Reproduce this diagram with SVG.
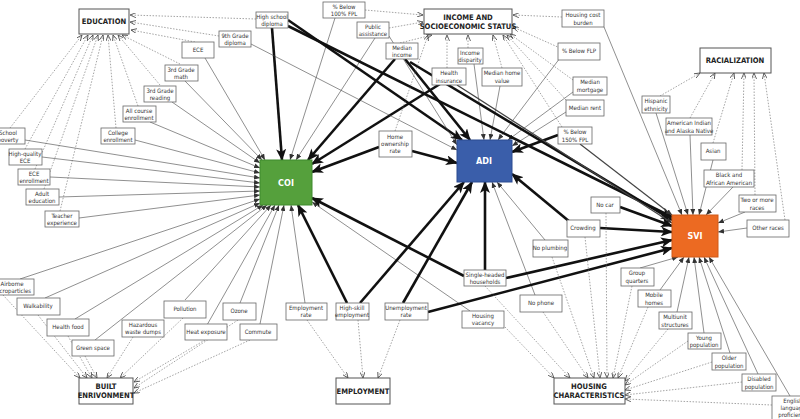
<svg xmlns="http://www.w3.org/2000/svg" width="800" height="419" viewBox="0 0 800 419">
<style>
text{font-family:"Liberation Sans Narrow","DejaVu Sans Condensed","Liberation Sans",sans-serif;font-stretch:condensed;font-size:6px;fill:#333;text-anchor:middle}
.b{fill:#fff;stroke:#666;stroke-width:0.8}
.c{fill:#fff;stroke:#555;stroke-width:1}
.ct{font-size:7.6px;font-weight:bold;fill:#222}
.it{font-size:9px;font-weight:bold;fill:#fff}
.th{stroke:#111;stroke-width:2.6;fill:none;marker-end:url(#ak)}
.tn{stroke:#444;stroke-width:0.6;fill:none;marker-end:url(#as)}
.dt{stroke:#666;stroke-width:0.6;stroke-dasharray:1.5 1.5;fill:none;marker-end:url(#ad)}
</style>
<defs>
<marker id="ak" markerUnits="userSpaceOnUse" markerWidth="12" markerHeight="10" refX="11" refY="5" orient="auto"><path d="M0,0 L12,5 L0,10 L3,5 Z" fill="#111"/></marker>
<marker id="as" markerUnits="userSpaceOnUse" markerWidth="6" markerHeight="5" refX="6" refY="2.5" orient="auto"><path d="M0,0 L6,2.5 L0,5 Z" fill="#333"/></marker>
<marker id="ad" markerUnits="userSpaceOnUse" markerWidth="6" markerHeight="5" refX="6" refY="2.5" orient="auto"><path d="M0,0 L6,2.5 L0,5" fill="none" stroke="#444" stroke-width="0.8"/></marker>
</defs>
<rect width="800" height="419" fill="#fff"/>
<g id="connectors">
<line class="tn" x1="335" y1="18" x2="290" y2="160"/>
<line class="tn" x1="375" y1="38" x2="296" y2="160"/>
<line class="tn" x1="205" y1="58" x2="265" y2="160"/>
<line class="tn" x1="185" y1="81" x2="262" y2="160"/>
<line class="tn" x1="172" y1="102" x2="260" y2="163"/>
<line class="tn" x1="150" y1="122" x2="260" y2="168"/>
<line class="tn" x1="135" y1="140" x2="260" y2="173"/>
<line class="tn" x1="25" y1="140" x2="260" y2="178"/>
<line class="tn" x1="42" y1="157" x2="260" y2="183"/>
<line class="tn" x1="50" y1="177" x2="260" y2="187"/>
<line class="tn" x1="59" y1="197" x2="260" y2="191"/>
<line class="tn" x1="79" y1="218" x2="260" y2="195"/>
<line class="tn" x1="20" y1="279" x2="260" y2="199"/>
<line class="tn" x1="45" y1="298" x2="260" y2="203"/>
<line class="tn" x1="75" y1="319" x2="263" y2="205"/>
<line class="tn" x1="95" y1="340" x2="267" y2="205"/>
<line class="tn" x1="185" y1="300" x2="271" y2="205"/>
<line class="tn" x1="207" y1="325" x2="275" y2="205"/>
<line class="tn" x1="240" y1="303" x2="279" y2="205"/>
<line class="tn" x1="260" y1="324" x2="284" y2="205"/>
<line class="tn" x1="305" y1="303" x2="291" y2="205"/>
<line class="tn" x1="470" y1="311" x2="312" y2="202"/>
<line class="th" x1="272" y1="28" x2="282" y2="160"/>
<line class="th" x1="395" y1="59" x2="308" y2="160"/>
<line class="th" x1="440" y1="84" x2="312" y2="164"/>
<line class="th" x1="379" y1="147" x2="312" y2="172"/>
<line class="th" x1="464" y1="276" x2="312" y2="198"/>
<line class="th" x1="347" y1="303" x2="298" y2="205"/>
<line class="th" x1="288" y1="20" x2="462" y2="140"/>
<line class="th" x1="405" y1="59" x2="470" y2="140"/>
<line class="th" x1="412" y1="151" x2="457" y2="163"/>
<line class="th" x1="558" y1="135" x2="512" y2="152"/>
<line class="th" x1="485" y1="270" x2="485" y2="182"/>
<line class="th" x1="360" y1="303" x2="464" y2="182"/>
<line class="th" x1="403" y1="303" x2="472" y2="182"/>
<line class="th" x1="570" y1="222" x2="512" y2="174"/>
<line class="tn" x1="251" y1="44" x2="457" y2="150"/>
<line class="tn" x1="389" y1="36" x2="457" y2="145"/>
<line class="tn" x1="474" y1="64" x2="484" y2="140"/>
<line class="tn" x1="500" y1="86" x2="490" y2="140"/>
<line class="tn" x1="560" y1="58" x2="498" y2="140"/>
<line class="tn" x1="573" y1="92" x2="508" y2="140"/>
<line class="tn" x1="566" y1="112" x2="512" y2="146"/>
<line class="tn" x1="545" y1="240" x2="497" y2="182"/>
<line class="tn" x1="535" y1="295" x2="492" y2="182"/>
<line class="th" x1="288" y1="26" x2="672" y2="217"/>
<line class="th" x1="410" y1="62" x2="672" y2="220"/>
<line class="tn" style="stroke-width:1.4" x1="457" y1="85" x2="672" y2="223"/>
<line class="th" x1="620" y1="207" x2="672" y2="226"/>
<line class="th" x1="600" y1="228" x2="672" y2="232"/>
<line class="th" x1="506" y1="278" x2="672" y2="240"/>
<line class="th" x1="428" y1="312" x2="672" y2="248"/>
<line class="tn" style="stroke-width:1.2" x1="580" y1="144" x2="672" y2="215"/>
<line class="tn" x1="604" y1="27" x2="682" y2="215"/>
<line class="tn" x1="656" y1="113" x2="688" y2="215"/>
<line class="tn" x1="690" y1="135" x2="693" y2="215"/>
<line class="tn" x1="713" y1="160" x2="699" y2="215"/>
<line class="tn" x1="733" y1="187" x2="706" y2="215"/>
<line class="tn" x1="745" y1="212" x2="718" y2="223"/>
<line class="tn" x1="747" y1="228" x2="718" y2="232"/>
<line class="tn" x1="640" y1="268" x2="678" y2="257"/>
<line class="tn" x1="660" y1="290" x2="684" y2="257"/>
<line class="tn" x1="677" y1="312" x2="689" y2="257"/>
<line class="tn" x1="704" y1="333" x2="694" y2="257"/>
<line class="tn" x1="730" y1="353" x2="699" y2="257"/>
<line class="tn" x1="758" y1="374" x2="704" y2="257"/>
<line class="tn" x1="790" y1="396" x2="709" y2="257"/>
<line class="dt" x1="256" y1="19" x2="130" y2="15"/>
<line class="dt" x1="219" y1="36" x2="130" y2="22"/>
<line class="dt" x1="195" y1="42" x2="131" y2="30"/>
<line class="dt" x1="180" y1="64" x2="122" y2="35"/>
<line class="dt" x1="160" y1="85" x2="118" y2="35"/>
<line class="dt" x1="138" y1="106" x2="113" y2="35"/>
<line class="dt" x1="116" y1="128" x2="108" y2="35"/>
<line class="dt" x1="10" y1="128" x2="82" y2="35"/>
<line class="dt" x1="25" y1="149" x2="88" y2="35"/>
<line class="dt" x1="35" y1="169" x2="93" y2="35"/>
<line class="dt" x1="44" y1="189" x2="98" y2="35"/>
<line class="dt" x1="60" y1="211" x2="103" y2="35"/>
<line class="dt" x1="365" y1="10" x2="423" y2="15"/>
<line class="dt" x1="389" y1="28" x2="423" y2="22"/>
<line class="dt" x1="400" y1="43" x2="432" y2="35"/>
<line class="dt" x1="395" y1="131" x2="428" y2="35"/>
<line class="dt" x1="447" y1="68" x2="447" y2="35"/>
<line class="dt" x1="468" y1="48" x2="468" y2="35"/>
<line class="dt" x1="502" y1="68" x2="493" y2="35"/>
<line class="dt" x1="562" y1="127" x2="503" y2="35"/>
<line class="dt" x1="573" y1="80" x2="510" y2="34"/>
<line class="dt" x1="566" y1="100" x2="507" y2="35"/>
<line class="dt" x1="560" y1="48" x2="513" y2="27"/>
<line class="dt" x1="562" y1="17" x2="513" y2="15"/>
<line class="dt" x1="660" y1="96" x2="700" y2="73"/>
<line class="dt" x1="690" y1="118" x2="715" y2="73"/>
<line class="dt" x1="713" y1="143" x2="734" y2="73"/>
<line class="dt" x1="742" y1="170" x2="744" y2="73"/>
<line class="dt" x1="755" y1="195" x2="754" y2="73"/>
<line class="dt" x1="785" y1="220" x2="764" y2="73"/>
<line class="dt" x1="3" y1="295" x2="80" y2="378"/>
<line class="dt" x1="38" y1="315" x2="87" y2="378"/>
<line class="dt" x1="68" y1="336" x2="92" y2="378"/>
<line class="dt" x1="85" y1="356" x2="97" y2="378"/>
<line class="dt" x1="133" y1="337" x2="107" y2="378"/>
<line class="dt" x1="183" y1="318" x2="120" y2="378"/>
<line class="dt" x1="205" y1="340" x2="134" y2="382"/>
<line class="dt" x1="238" y1="320" x2="134" y2="388"/>
<line class="dt" x1="250" y1="340" x2="134" y2="393"/>
<line class="dt" x1="307" y1="320" x2="348" y2="378"/>
<line class="dt" x1="358" y1="320" x2="363" y2="378"/>
<line class="dt" x1="400" y1="320" x2="378" y2="378"/>
<line class="dt" x1="505" y1="327" x2="554" y2="378"/>
<line class="dt" x1="485" y1="286" x2="570" y2="378"/>
<line class="dt" x1="543" y1="312" x2="588" y2="378"/>
<line class="dt" x1="552" y1="257" x2="594" y2="378"/>
<line class="dt" x1="585" y1="237" x2="600" y2="378"/>
<line class="dt" x1="606" y1="213" x2="607" y2="378"/>
<line class="dt" x1="632" y1="286" x2="613" y2="378"/>
<line class="dt" x1="648" y1="307" x2="618" y2="378"/>
<line class="dt" x1="668" y1="329" x2="625" y2="381"/>
<line class="dt" x1="688" y1="341" x2="625" y2="385"/>
<line class="dt" x1="712" y1="362" x2="625" y2="390"/>
<line class="dt" x1="742" y1="382" x2="625" y2="395"/>
<line class="dt" x1="772" y1="405" x2="625" y2="399"/>
</g>
<g id="COI"><rect x="260" y="160" width="52" height="45" fill="#55a03c" stroke="#3e8a2c"/><text class="it" x="286" y="186">COI</text></g>
<g id="ADI"><rect x="457" y="140" width="55" height="42" fill="#3a5eaa" stroke="#2a4a90"/><text class="it" x="484" y="164">ADI</text></g>
<g id="SVI"><rect x="672" y="215" width="46" height="42" fill="#ec6a22" stroke="#d05a18"/><text class="it" x="695" y="239">SVI</text></g>
<g id="EDUCATION"><rect class="c" x="79" y="9" width="50" height="25"/><text class="ct" x="104" y="24">EDUCATION</text></g>
<g id="INCOME"><rect class="c" x="424" y="9" width="88" height="25"/><text class="ct" x="468" y="20">INCOME AND</text><text class="ct" x="468" y="29">SOCIOECONOMIC STATUS</text></g>
<g id="RACIALIZATION"><rect class="c" x="700" y="48" width="71" height="25"/><text class="ct" x="735" y="63">RACIALIZATION</text></g>
<g id="BUILT"><rect class="c" x="79" y="378" width="54" height="26"/><text class="ct" x="106" y="389">BUILT</text><text class="ct" x="106" y="398">ENRIVONMENT</text></g>
<g id="EMPLOYMENT"><rect class="c" x="336" y="378" width="54" height="26"/><text class="ct" x="363" y="394">EMPLOYMENT</text></g>
<g id="HOUSING"><rect class="c" x="554" y="378" width="71" height="26"/><text class="ct" x="589" y="389">HOUSING</text><text class="ct" x="589" y="398">CHARACTERISTICS</text></g>
<g id="n-hsd"><rect class="b" x="256" y="12" width="32" height="16"/><text x="272" y="19">High school</text><text x="272" y="26">diploma</text></g>
<g id="n-fpl100"><rect class="b" x="323" y="2" width="42" height="16"/><text x="344" y="9">% Below</text><text x="344" y="16">100% FPL</text></g>
<g id="n-pa"><rect class="b" x="357" y="22" width="32" height="16"/><text x="373" y="29">Public</text><text x="373" y="36">assistance</text></g>
<g id="n-mi"><rect class="b" x="386" y="43" width="32" height="16"/><text x="402" y="50">Median</text><text x="402" y="57">income</text></g>
<g id="n-9th"><rect class="b" x="219" y="31" width="32" height="16"/><text x="235" y="38">9th Grade</text><text x="235" y="45">diploma</text></g>
<g id="n-ece"><rect class="b" x="182" y="42" width="32" height="16"/><text x="198" y="52">ECE</text></g>
<g id="n-3m"><rect class="b" x="165" y="65" width="33" height="16"/><text x="181" y="72">3rd Grade</text><text x="181" y="79">math</text></g>
<g id="n-3r"><rect class="b" x="144" y="86" width="32" height="16"/><text x="160" y="93">3rd Grade</text><text x="160" y="100">reading</text></g>
<g id="n-ace"><rect class="b" x="123" y="106" width="33" height="16"/><text x="139" y="113">All course</text><text x="139" y="120">enrollment</text></g>
<g id="n-ce"><rect class="b" x="101" y="128" width="34" height="16"/><text x="118" y="135">College</text><text x="118" y="142">enrollment</text></g>
<g id="n-sp"><rect class="b" x="-8" y="128" width="33" height="16"/><text x="8" y="135">School</text><text x="8" y="142">poverty</text></g>
<g id="n-hqe"><rect class="b" x="9" y="149" width="33" height="16"/><text x="25" y="156">High-quality</text><text x="25" y="163">ECE</text></g>
<g id="n-ee"><rect class="b" x="18" y="169" width="32" height="16"/><text x="34" y="176">ECE</text><text x="34" y="183">enrollment</text></g>
<g id="n-ae"><rect class="b" x="26" y="189" width="33" height="16"/><text x="42" y="196">Adult</text><text x="42" y="203">education</text></g>
<g id="n-te"><rect class="b" x="45" y="211" width="34" height="16"/><text x="62" y="218">Teacher</text><text x="62" y="225">experience</text></g>
<g id="n-air"><rect class="b" x="-10" y="279" width="44" height="16"/><text x="12" y="286">Airborne</text><text x="12" y="293">microparticles</text></g>
<g id="n-walk"><rect class="b" x="17" y="298" width="43" height="17"/><text x="38" y="308">Walkability</text></g>
<g id="n-hf"><rect class="b" x="47" y="319" width="42" height="17"/><text x="68" y="329">Health food</text></g>
<g id="n-gs"><rect class="b" x="72" y="340" width="42" height="16"/><text x="93" y="350">Green space</text></g>
<g id="n-hw"><rect class="b" x="122" y="320" width="42" height="17"/><text x="143" y="327">Hazardous</text><text x="143" y="334">waste dumps</text></g>
<g id="n-pol"><rect class="b" x="164" y="301" width="42" height="17"/><text x="185" y="311">Pollution</text></g>
<g id="n-heat"><rect class="b" x="185" y="324" width="42" height="16"/><text x="206" y="334">Heat exposure</text></g>
<g id="n-oz"><rect class="b" x="223" y="303" width="33" height="17"/><text x="239" y="313">Ozone</text></g>
<g id="n-com"><rect class="b" x="240" y="324" width="37" height="16"/><text x="258" y="334">Commute</text></g>
<g id="n-er"><rect class="b" x="286" y="303" width="41" height="17"/><text x="306" y="310">Employment</text><text x="306" y="317">rate</text></g>
<g id="n-hse"><rect class="b" x="336" y="303" width="33" height="17"/><text x="352" y="310">High-skill</text><text x="352" y="317">employment</text></g>
<g id="n-ur"><rect class="b" x="385" y="303" width="43" height="17"/><text x="406" y="310">Unemployment</text><text x="406" y="317">rate</text></g>
<g id="n-hv"><rect class="b" x="462" y="311" width="42" height="17"/><text x="483" y="318">Housing</text><text x="483" y="325">vacancy</text></g>
<g id="n-np"><rect class="b" x="520" y="295" width="42" height="17"/><text x="541" y="305">No phone</text></g>
<g id="n-npl"><rect class="b" x="533" y="240" width="35" height="17"/><text x="550" y="250">No plumbing</text></g>
<g id="n-shh"><rect class="b" x="464" y="270" width="42" height="16"/><text x="485" y="277">Single-headed</text><text x="485" y="284">households</text></g>
<g id="n-cr"><rect class="b" x="567" y="220" width="33" height="17"/><text x="583" y="230">Crowding</text></g>
<g id="n-nc"><rect class="b" x="591" y="197" width="29" height="16"/><text x="605" y="207">No car</text></g>
<g id="n-gq"><rect class="b" x="621" y="268" width="33" height="18"/><text x="637" y="275">Group</text><text x="637" y="283">quarters</text></g>
<g id="n-mh"><rect class="b" x="638" y="290" width="33" height="17"/><text x="654" y="297">Mobile</text><text x="654" y="305">homes</text></g>
<g id="n-ms"><rect class="b" x="659" y="312" width="33" height="17"/><text x="675" y="319">Multiunit</text><text x="675" y="327">structures</text></g>
<g id="n-yp"><rect class="b" x="688" y="333" width="33" height="16"/><text x="704" y="340">Young</text><text x="704" y="347">population</text></g>
<g id="n-op"><rect class="b" x="712" y="353" width="34" height="17"/><text x="729" y="360">Older</text><text x="729" y="368">population</text></g>
<g id="n-dp"><rect class="b" x="742" y="374" width="34" height="17"/><text x="759" y="381">Disabled</text><text x="759" y="389">population</text></g>
<g id="n-elp"><rect class="b" x="772" y="396" width="40" height="25"/><text x="793" y="403">English</text><text x="793" y="410">language</text><text x="793" y="417">proficiency</text></g>
<g id="n-or"><rect class="b" x="747" y="220" width="42" height="17"/><text x="768" y="230">Other races</text></g>
<g id="n-tom"><rect class="b" x="739" y="195" width="37" height="17"/><text x="757" y="202">Two or more</text><text x="757" y="210">races</text></g>
<g id="n-baa"><rect class="b" x="704" y="170" width="50" height="17"/><text x="729" y="177">Black and</text><text x="729" y="185">African American</text></g>
<g id="n-as"><rect class="b" x="701" y="143" width="25" height="17"/><text x="713" y="153">Asian</text></g>
<g id="n-aian"><rect class="b" x="666" y="118" width="46" height="17"/><text x="689" y="125">American Indian</text><text x="689" y="133">and Alaska Native</text></g>
<g id="n-his"><rect class="b" x="642" y="96" width="28" height="17"/><text x="656" y="103">Hispanic</text><text x="656" y="111">ethnicity</text></g>
<g id="n-hcb"><rect class="b" x="562" y="10" width="42" height="17"/><text x="583" y="17">Housing cost</text><text x="583" y="25">burden</text></g>
<g id="n-flp"><rect class="b" x="558" y="43" width="42" height="17"/><text x="579" y="53">% Below FLP</text></g>
<g id="n-mm"><rect class="b" x="573" y="77" width="34" height="18"/><text x="590" y="84">Median</text><text x="590" y="92">mortgage</text></g>
<g id="n-mr"><rect class="b" x="566" y="100" width="38" height="16"/><text x="585" y="110">Median rent</text></g>
<g id="n-fpl150"><rect class="b" x="558" y="127" width="34" height="17"/><text x="575" y="134">% Below</text><text x="575" y="142">150% FPL</text></g>
<g id="n-hi"><rect class="b" x="432" y="68" width="34" height="17"/><text x="449" y="75">Health</text><text x="449" y="83">insurance</text></g>
<g id="n-id"><rect class="b" x="458" y="48" width="25" height="16"/><text x="470" y="55">Income</text><text x="470" y="62">disparity</text></g>
<g id="n-mhv"><rect class="b" x="482" y="68" width="40" height="18"/><text x="502" y="75">Median home</text><text x="502" y="83">value</text></g>
<g id="n-hor"><rect class="b" x="379" y="131" width="33" height="26"/><text x="395" y="139">Home</text><text x="395" y="146">ownership</text><text x="395" y="153">rate</text></g>
</svg>
